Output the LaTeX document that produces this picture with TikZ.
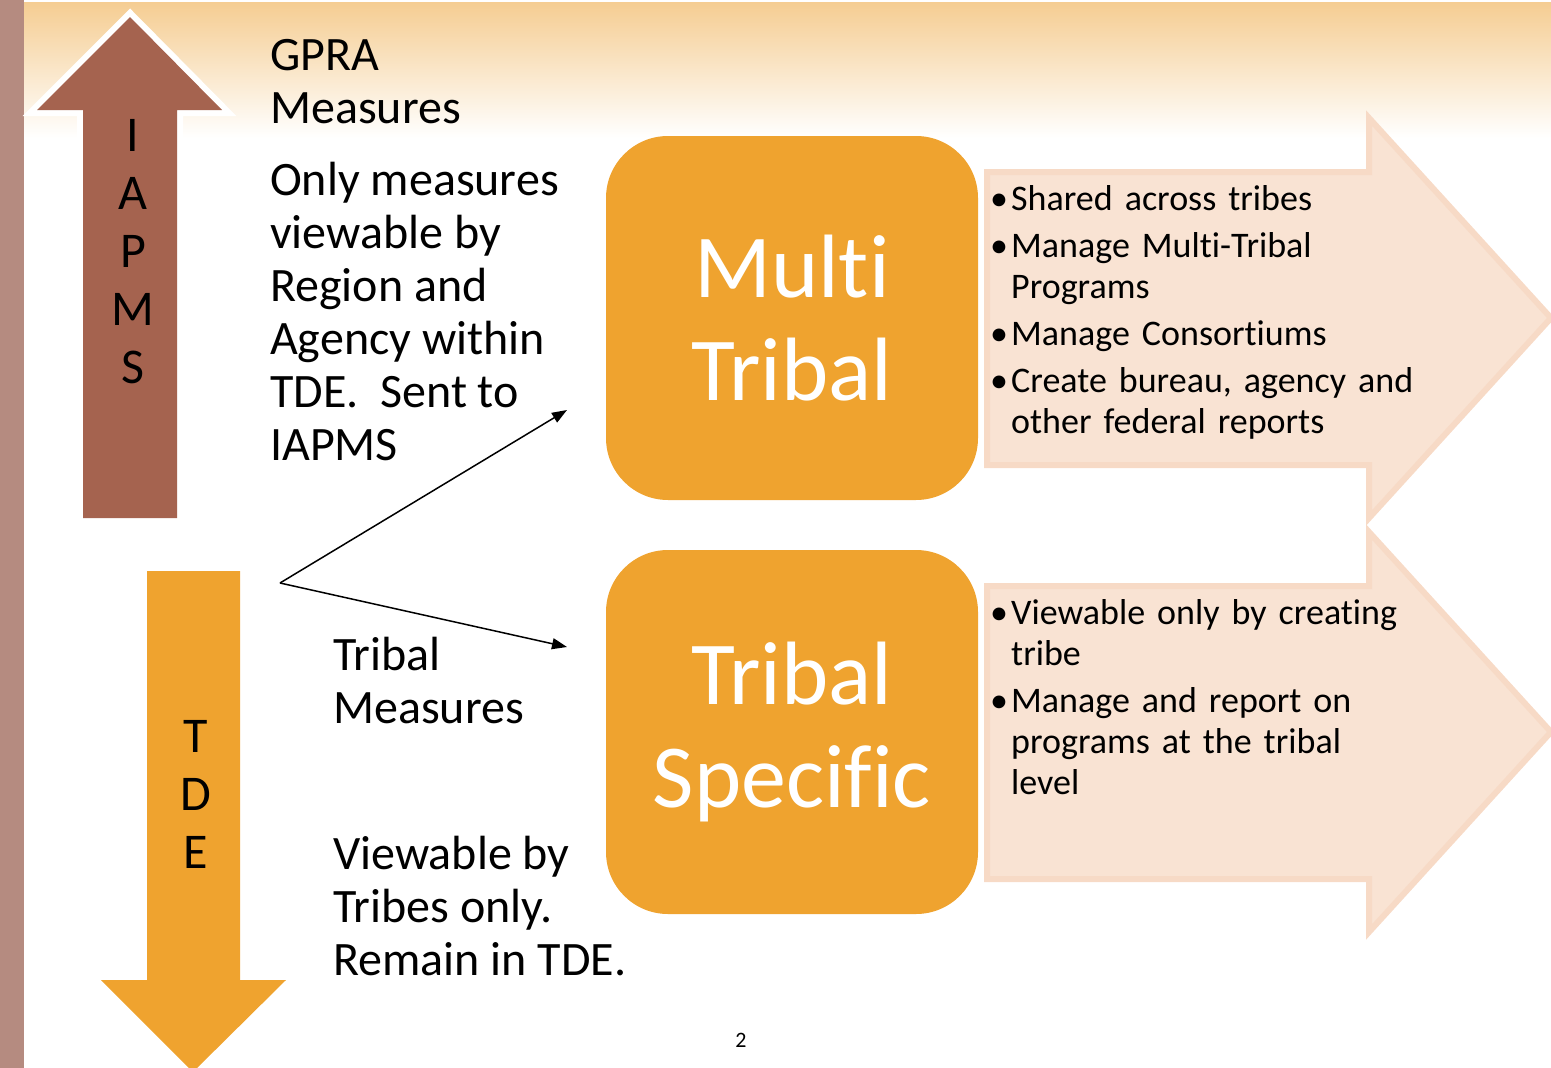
\documentclass[tikz,border=0pt]{standalone}
\usepackage{fontspec}
\setmainfont{Carlito}[Ligatures=NoCommon]
\setsansfont{Carlito}[Ligatures=NoCommon]
\usetikzlibrary{arrows.meta}

\definecolor{sidebar}{HTML}{B58B80}
\definecolor{iapms}{HTML}{A5634F}
\definecolor{tde}{HTML}{EFA32F}
\definecolor{peach}{HTML}{F9E3D3}
\definecolor{peachline}{HTML}{F7DAC6}
\definecolor{topband}{HTML}{F5CD92}

\newcommand{\bitem}[1]{\par\hangindent=21pt\hangafter=1\noindent\makebox[21pt][l]{\textbullet}#1\par}

\tikzset{
	bigtxt/.style={font=\fontsize{48}{53}\selectfont, align=left, anchor=north west, inner sep=0pt},
	vertletters/.style={font=\fontsize{50}{58}\selectfont, align=center, inner sep=0pt},
	levelbox/.style={fill=tde, rounded corners=62pt, minimum width=372pt, minimum height=364pt,
		text=white, font=\fontsize{90}{103}\selectfont, align=center, inner sep=0pt},
	bullets/.style={font=\fontsize{36}{41}\selectfont, anchor=north west, inner sep=0pt,
		text width=450pt, execute at begin node={\setlength{\parskip}{6pt}\raggedright\hyphenpenalty=10000}},
	bigarrow/.style={fill=peach, draw=peachline, line width=6pt, line join=miter},
	link/.style={-{Triangle[length=15pt,width=11pt]}, line width=1.5pt},
}

\begin{document}
\begin{tikzpicture}[x=1pt,y=-1pt]
	\useasboundingbox (0,0) rectangle (1551,1068);
	\clip (0,0) rectangle (1551,1068);

	% background
	\fill[sidebar] (0,0) rectangle (24,1068);
	\shade[top color=topband, bottom color=white] (24,2) rectangle (1551,138);

	% right arrows
	\foreach \top in {0,414} {
		\filldraw[bigarrow] (987,172+\top) -- (1369,172+\top) -- (1369,118+\top) -- (1551,318+\top)
			-- (1369,518+\top) -- (1369,465+\top) -- (987,465+\top) -- cycle;
	};

	% level boxes
	\node[levelbox] (multi) at (792,318) {Multi\\Tribal};
	\node[levelbox] (specific) at (792,732) {Tribal\\Specific};

	% up and down arrows
	\draw[white, line width=12pt, line join=miter] (83,518) -- (83,110) -- (37,110) -- (130,17)
		-- (222,110) -- (177,110) -- (177,518);
	\fill[iapms] (83,518) -- (83,110) -- (37,110) -- (130,17) -- (222,110) -- (177,110) -- (177,518) -- cycle;
	\fill[tde] (147,571) -- (147,980) -- (101,980) -- (193,1072) -- (286,980) -- (240,980) -- (240,571) -- cycle;
	\node[vertletters] (iapmstxt) at (133,252) {I\\A\\P\\M\\S};
	\node[vertletters] (tdetxt) at (196,794) {T\\D\\E};

	% left texts
	\node[bigtxt] (gpra) at (270,39) {GPRA\\Measures};
	\node[bigtxt] (gpranote) at (270,162) {Only measures\\viewable by\\Region and\\Agency within\\TDE.\ \ Sent to\\IAPMS};
	\node[bigtxt] (tribal) at (333,637) {Tribal\\Measures};
	\node[bigtxt] (tribalnote) at (333,836) {Viewable by\\Tribes only.\\Remain in TDE.};

	% bullets
	\node[bullets] (multilist) at (990,163) {%
		\bitem{Shared across tribes}
		\bitem{Manage Multi-Tribal Programs}
		\bitem{Manage Consortiums}
		\bitem{Create bureau, agency and other federal reports}};
	\node[bullets, text width=415pt] (specificlist) at (990,577) {%
		\bitem{Viewable only by creating tribe}
		\bitem{Manage and report on programs at the tribal level}};

	% links
	\coordinate (split) at (280,583);
	\coordinate (tomulti) at (567,410);
	\coordinate (tospecific) at (567,647);
	\draw[link] (split) -- (tomulti);
	\draw[link] (split) -- (tospecific);

	\node[font=\fontsize{22}{26}\selectfont] (page) at (741,1040) {2};
\end{tikzpicture}
\end{document}
